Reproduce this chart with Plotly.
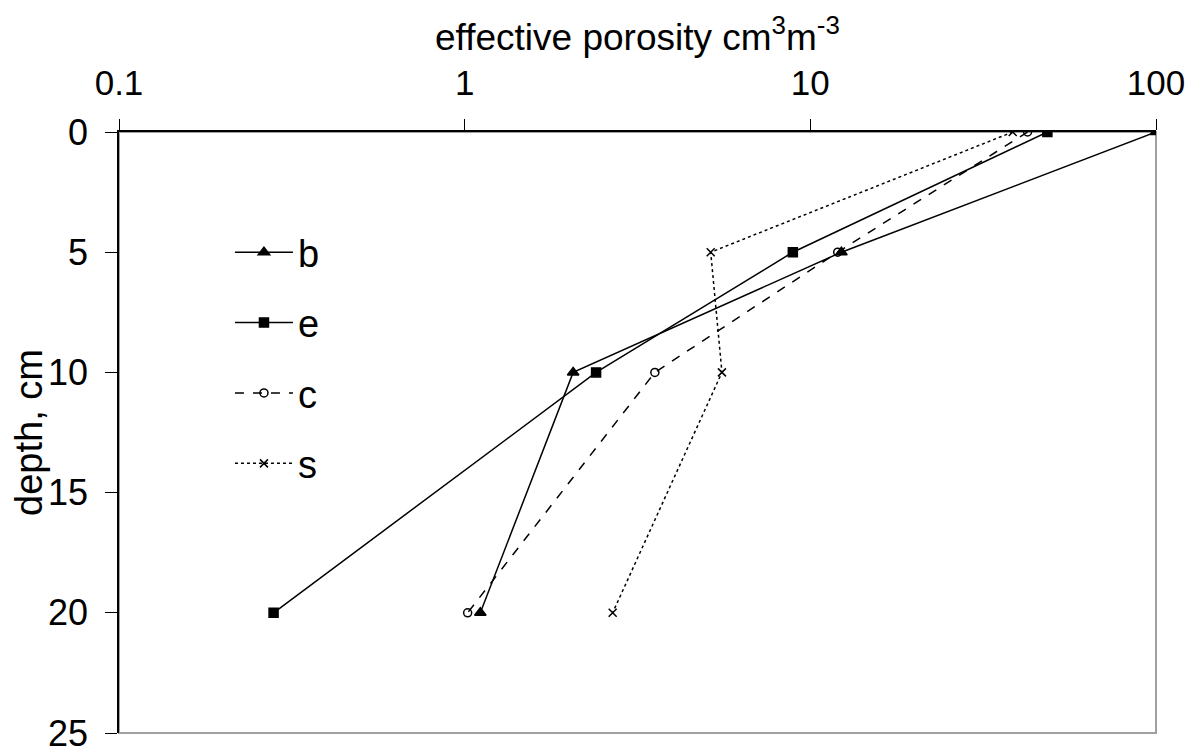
import plotly.graph_objects as go

depth = [0, 5, 10, 20]
b_vals = [100, 12.3, 2.06, 1.11]
e_vals = [48.5, 8.9, 2.4, 0.28]
c_vals = [42.5, 12.0, 3.55, 1.02]
s_vals = [38.5, 5.15, 5.55, 2.68]
x_tickvals = [0.1, 1, 10, 100]
x_ticktext = ["0.1", "1", "10", "100"]
y_tickvals = [0, 5, 10, 15, 20, 25]

FONT = "Liberation Sans, Arial, sans-serif"

series = [
    ("b", b_vals, "solid", "triangle-up", 10, "black"),
    ("e", e_vals, "solid", "square", 9, "black"),
    ("c", c_vals, "dash", "circle-open", 8, "black"),
    ("s", s_vals, "dot", "x-thin-open", 8, "black"),
]

fig = go.Figure()
for i, (name, vals, dash, sym, size, col) in enumerate(series):
    fig.add_trace(go.Scatter(
        x=vals, y=depth, name=name, mode="lines+markers",
        line=dict(color="black", width=1.5, dash=dash),
        marker=dict(symbol=sym, size=size, color=col,
                    line=dict(color="black", width=1.5)),
        legendgroup=name,
    ))

fig.add_shape(type="rect", xref="paper", yref="paper", x0=0, x1=1, y0=0, y1=1,
              line=dict(color="#a0a0a0", width=2), layer="below")

fig.add_annotation(text="effective porosity cm<sup>3</sup>m<sup>-3</sup>",
                   xref="paper", yref="paper", x=0.5, y=1.162,
                   xanchor="center", yanchor="middle", showarrow=False,
                   font=dict(size=37))

fig.update_layout(
    width=1204, height=755,
    margin=dict(l=111, r=56, t=124, b=30),
    paper_bgcolor="white", plot_bgcolor="white",
    font=dict(family=FONT, size=36, color="black"),
    showlegend=True,
    legend=dict(x=0.107, y=0.852, xanchor="left", yanchor="top",
                bgcolor="rgba(0,0,0,0)", font=dict(size=38),
                traceorder="grouped", tracegroupgap=18, itemwidth=58),
    xaxis=dict(type="log", side="top", range=[-1, 2], automargin=False,
               tickvals=x_tickvals, ticktext=x_ticktext,
               showgrid=False, zeroline=False,
               showline=True, linecolor="black", linewidth=1.5,
               ticks="outside", ticklen=11, tickcolor="black", tickwidth=1,
               tickfont=dict(size=35), ticklabelstandoff=10),
    yaxis=dict(range=[25, 0], tickvals=y_tickvals, automargin=False,
               showgrid=False, zeroline=False,
               showline=True, linecolor="black", linewidth=1.5,
               ticks="outside", ticklen=12, tickcolor="black", tickwidth=1,
               tickfont=dict(size=36), ticklabelstandoff=10,
               title=dict(text="depth, cm", font=dict(size=38), standoff=8)),
)

fig.write_html("out.html")
